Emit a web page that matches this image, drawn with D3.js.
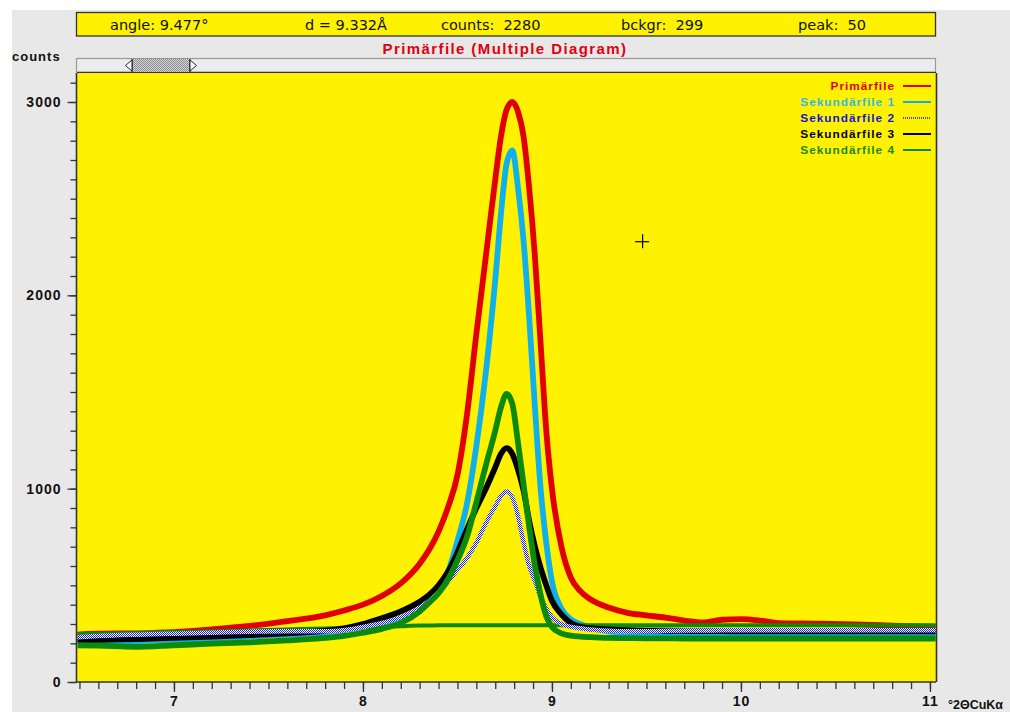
<!DOCTYPE html>
<html><head><meta charset="utf-8">
<script src="https://cdn.jsdelivr.net/npm/d3@7"></script>
<style>html,body{margin:0;padding:0;background:#fff;overflow:hidden}svg{display:block}</style>
</head><body><svg id="c" width="1010" height="712"></svg>
<script>
const angles = [6.49,6.6,6.8,7.0,7.2,7.4,7.6,7.8,7.9,8.0,8.1,8.2,8.3,8.35,8.4,8.45,8.5,8.55,8.6,8.65,8.7,8.73,8.76,8.79,8.82,8.85,8.88,8.91,8.94,8.97,9.0,9.05,9.1,9.15,9.2,9.3,9.4,9.5,9.6,9.7,9.8,9.9,10.0,10.1,10.2,10.4,10.6,10.8,11.03];
const primarfile = [245,250,252,258,272,290,315,345,370,400,445,510,612,684,778,903,1070,1380,1800,2200,2600,2820,2960,3000,2950,2820,2550,2200,1750,1300,1000,700,540,470,430,385,358,345,333,318,308,322,325,318,305,302,298,292,285];
const sekundar1 = [205,208,212,218,225,235,245,255,268,285,305,330,380,420,480,570,730,920,1220,1600,2080,2420,2680,2750,2560,2280,1880,1420,1000,720,520,380,325,300,282,262,250,243,238,237,236,236,235,235,235,235,235,235,235];
const sekundar2 = [232,238,245,250,255,260,263,262,268,285,305,335,385,420,465,520,580,640,720,820,910,960,985,955,860,720,600,520,440,380,335,300,285,278,272,265,262,262,265,266,266,268,268,268,268,268,268,268,268];
const sekundar3 = [215,218,222,228,235,243,252,265,278,300,330,365,415,450,500,570,670,790,900,1000,1110,1180,1210,1180,1100,990,830,700,590,500,420,350,305,285,278,272,268,266,265,264,263,263,262,262,262,262,262,262,262];
const sekundar4 = [190,188,182,190,198,205,215,228,238,255,275,305,365,410,460,530,630,750,930,1120,1300,1420,1490,1440,1240,1020,800,600,450,340,285,252,240,235,232,228,227,226,226,225,225,225,225,225,225,225,225,225,225];
const background4 = [248,250,253,258,262,267,272,277,280,283,286,289,292,292,293,293,293,293,293,293,293,293,293,293,293,293,293,293,293,293,293,293,293,293,293,293,293,293,293,293,293,293,293,293,293,293,293,293,293];
const seriesNames = ["Primärfile","Sekundärfile 1","Sekundärfile 2","Sekundärfile 3","Sekundärfile 4"];
const seriesColors = ["#e00000","#10b0ec","#1414d0","#000000","#0b8a0b"];
const legendTextColors = ["#e00000","#30b8ea","#1414d0","#000000","#1a8a1a"];
const yMajorTicks = [0,1000,2000,3000];
const xMajorTicks = [7,8,9,10,11];
const infoTexts = ["angle: 9.477°","d = 9.332Å","counts:  2280","bckgr:  299","peak:  50"];
const cursorAngle = 9.477, cursorCounts = 2280;
const titleText = "Primärfile (Multiple Diagram)";
const yAxisTitle = "counts";
const xAxisTitle = "°2ΘCuKα";

const W = 1010, H = 712;
const plot = {l:77, r:936, t:73, b:682};
const svg = d3.select("#c");
const defs = svg.append("defs");
const pat = defs.append("pattern").attr("id","dots").attr("patternUnits","userSpaceOnUse").attr("width",2).attr("height",2);
pat.append("rect").attr("width",2).attr("height",2).attr("fill","#ffffff");
pat.append("rect").attr("width",1).attr("height",1).attr("fill","#2020d8");
pat.append("rect").attr("x",1).attr("y",1).attr("width",1).attr("height",1).attr("fill","#2020d8");

svg.append("rect").attr("x",12).attr("y",10).attr("width",W-12).attr("height",H-10).attr("fill","#e8e8e8");

const x = d3.scaleLinear().domain([6.487,11.032]).range([plot.l,plot.r]);
const y = d3.scaleLinear().domain([0,3150]).range([plot.b,plot.t]);

// info bar
svg.append("rect").attr("x",76.5).attr("y",12.5).attr("width",859).attr("height",23.5).attr("fill","#fff200").attr("stroke","#333").attr("stroke-width",1.3);
const infoX = [110,305,441,621,798];
svg.selectAll("text.info").data(infoTexts).join("text").attr("class","info")
  .attr("x",(d,i)=>infoX[i]).attr("y",30).text(d=>d)
  .attr("font-family","DejaVu Sans").attr("font-size",14.5).attr("fill","#111").style("white-space","pre").attr("xml:space","preserve");

// y axis title
svg.append("text").attr("x",12).attr("y",61).text(yAxisTitle).attr("font-family","Liberation Sans, Arial").attr("font-weight","bold").attr("font-size",13).attr("letter-spacing",1).attr("fill","#111");
// title
svg.append("text").attr("x",505).attr("y",54).attr("text-anchor","middle").text(titleText).attr("font-family","Liberation Sans, Arial").attr("font-weight","bold").attr("font-size",15).attr("letter-spacing",1.4).attr("fill","#e00010");

// scrollbar
svg.append("rect").attr("x",76.5).attr("y",58.5).attr("width",859).attr("height",13.5).attr("fill","#ececec").attr("stroke","#9a9a9a").attr("stroke-width",1.2);
const pat2 = defs.append("pattern").attr("id","gdots").attr("patternUnits","userSpaceOnUse").attr("width",2).attr("height",2);
pat2.append("rect").attr("width",2).attr("height",2).attr("fill","#d8d8d8");
pat2.append("rect").attr("width",1).attr("height",1).attr("fill","#8a8a8a");
pat2.append("rect").attr("x",1).attr("y",1).attr("width",1).attr("height",1).attr("fill","#8a8a8a");
svg.append("rect").attr("x",132).attr("y",59).attr("width",58).attr("height",13).attr("fill","url(#gdots)");
svg.append("line").attr("x1",132).attr("x2",132).attr("y1",59).attr("y2",72).attr("stroke","#222").attr("stroke-width",1.2);
svg.append("line").attr("x1",190).attr("x2",190).attr("y1",59).attr("y2",72).attr("stroke","#222").attr("stroke-width",1.2);
svg.append("path").attr("d","M132,60 L125.5,65.5 L132,71 Z").attr("fill","#fff").attr("stroke","#222").attr("stroke-width",1);
svg.append("path").attr("d","M190,60 L196.5,65.5 L190,71 Z").attr("fill","#fff").attr("stroke","#222").attr("stroke-width",1);

// plot area
svg.append("rect").attr("x",plot.l).attr("y",plot.t).attr("width",plot.r-plot.l).attr("height",plot.b-plot.t).attr("fill","#fff200");
svg.append("path").attr("d",`M${plot.l-0.5},${plot.t} V${plot.b} H${plot.r}`).attr("fill","none").attr("stroke","#333").attr("stroke-width",1.6);
svg.append("line").attr("x1",plot.r+0.5).attr("x2",plot.r+0.5).attr("y1",plot.t).attr("y2",plot.b).attr("stroke","#333").attr("stroke-width",1.6);
svg.append("line").attr("x1",plot.l).attr("x2",plot.r).attr("y1",plot.t-0.5).attr("y2",plot.t-0.5).attr("stroke","#333").attr("stroke-width",1.2);

// axes
const yMinor = d3.axisLeft(y).tickValues(d3.range(0,3101,100)).tickSize(6).tickFormat("");
const yMajor = d3.axisLeft(y).tickValues(yMajorTicks).tickSize(9).tickPadding(6).tickFormat(d3.format("d"));
const gy1 = svg.append("g").attr("transform",`translate(${plot.l-0.5},0)`).call(yMinor);
const gy2 = svg.append("g").attr("transform",`translate(${plot.l-0.5},0)`).call(yMajor);
const xMinor = d3.axisBottom(x).tickValues(d3.range(65,111,1).map(v=>v/10)).tickSize(7).tickFormat("");
const xMajor = d3.axisBottom(x).tickValues(xMajorTicks).tickSize(10).tickPadding(5).tickFormat(d3.format("d"));
const gx1 = svg.append("g").attr("transform",`translate(0,${plot.b})`).call(xMinor);
const gx2 = svg.append("g").attr("transform",`translate(0,${plot.b})`).call(xMajor);
[gy1,gy2,gx1,gx2].forEach(g=>{
  g.select(".domain").remove();
  g.selectAll(".tick line").attr("stroke","#333").attr("stroke-width",1.3);
  g.selectAll("text").attr("font-family","Liberation Sans, Arial").attr("font-weight","bold").attr("font-size",14).attr("letter-spacing",1).attr("fill","#111");
});
gx2.selectAll("text").attr("dy","0.62em");
svg.append("text").attr("x",948).attr("y",709).text(xAxisTitle).attr("font-family","Liberation Sans, Arial").attr("font-weight","bold").attr("font-size",12.5).attr("fill","#111");

// series
const line = d3.line().x(d=>x(d[0])).y(d=>y(d[1])).curve(d3.curveMonotoneX);
const mk = arr => angles.map((a,i)=>[a,arr[i]]);
const gS = svg.append("g");
gS.append("path").datum(mk(primarfile)).attr("d",line).attr("fill","none").attr("stroke",seriesColors[0]).attr("stroke-width",5.8).attr("stroke-linejoin","round");
gS.append("path").datum(mk(sekundar1)).attr("d",line).attr("fill","none").attr("stroke",seriesColors[1]).attr("stroke-width",5.8).attr("stroke-linejoin","round");
gS.append("path").datum(mk(background4)).attr("d",line).attr("fill","none").attr("stroke",seriesColors[4]).attr("stroke-width",4);
gS.append("path").datum(mk(sekundar3)).attr("d",line).attr("fill","none").attr("stroke",seriesColors[3]).attr("stroke-width",5.8).attr("stroke-linejoin","round");
gS.append("path").datum(mk(sekundar2)).attr("d",line).attr("fill","none").attr("stroke","url(#dots)").attr("stroke-width",4.5).attr("stroke-linejoin","round");
gS.append("path").datum(mk(sekundar4)).attr("d",line).attr("fill","none").attr("stroke",seriesColors[4]).attr("stroke-width",5.8).attr("stroke-linejoin","round");

// legend
const lg = svg.append("g");
seriesNames.forEach((n,i)=>{
  const yy = 86 + i*16;
  lg.append("text").attr("x",895).attr("y",yy+4).attr("text-anchor","end").text(n)
    .attr("font-family","Liberation Sans, Arial").attr("font-weight","bold").attr("font-size",11.8).attr("letter-spacing",1).attr("fill",legendTextColors[i]);
  lg.append("line").attr("x1",903).attr("x2",931).attr("y1",yy).attr("y2",yy)
    .attr("stroke", i===2 ? "#1414d0" : seriesColors[i]).attr("stroke-width", i===2?1.5:2)
    .attr("stroke-dasharray", i===2 ? "1,1" : null);
});

// cursor cross
const cx = x(cursorAngle), cy = y(cursorCounts);
svg.append("line").attr("x1",cx-7).attr("x2",cx+7).attr("y1",cy+0.5).attr("y2",cy+0.5).attr("stroke","#000").attr("stroke-width",1.2);
svg.append("line").attr("x1",cx+0.5).attr("x2",cx+0.5).attr("y1",cy-7).attr("y2",cy+7).attr("stroke","#000").attr("stroke-width",1.2);
</script></body></html>
